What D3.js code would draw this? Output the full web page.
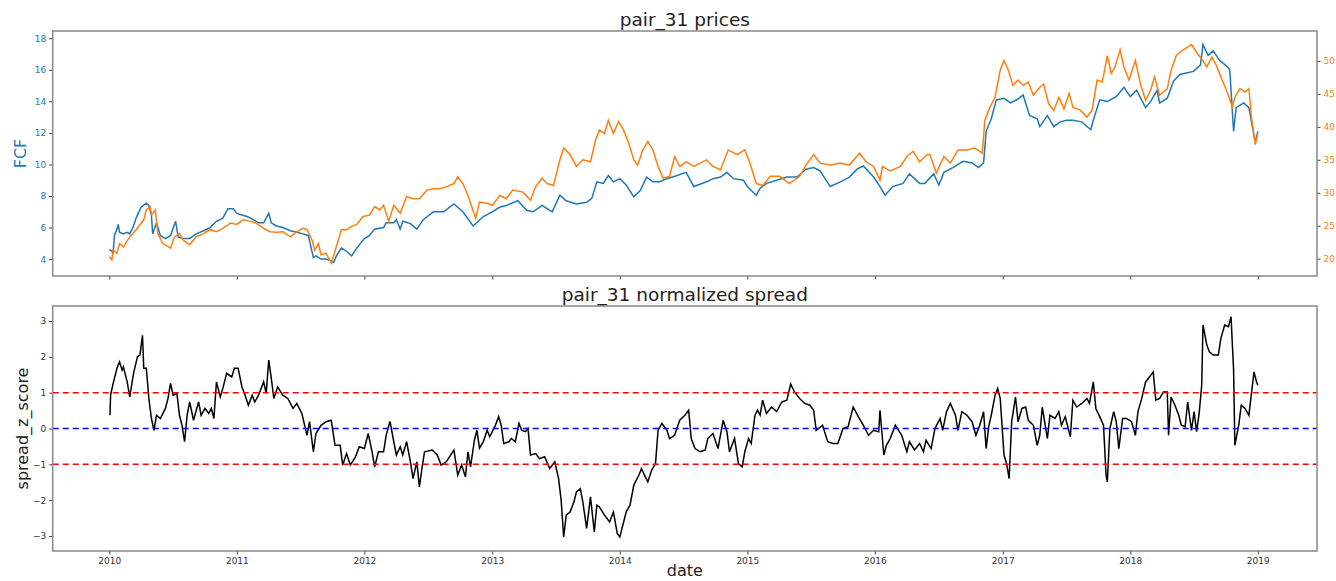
<!DOCTYPE html>
<html><head><meta charset="utf-8">
<script src="https://cdn.jsdelivr.net/npm/d3@7"></script>
<style>body{margin:0;background:#fff}svg{display:block}text{font-family:"DejaVu Sans",sans-serif}</style>
</head><body><svg id="chart" width="1336" height="581"></svg>
<script>
// ---------- data (decimal year, value) ----------
const titleTop = "pair_31 prices";
const titleBottom = "pair_31 normalized spread";
const yearTicks = [2010,2011,2012,2013,2014,2015,2016,2017,2018,2019];
const fcfTicks = [4,6,8,10,12,14,16,18];
const otherTicks = [20,25,30,35,40,45,50];
const zTicks = [-3,-2,-1,0,1,2,3];
const thresholds = [{v:1,c:"#ff0000"},{v:0,c:"#0000ff"},{v:-1,c:"#ff0000"}];

const fcfSeries = [
[2010.00,4.6],[2010.02,4.5],[2010.03,4.4],[2010.04,5.5],[2010.06,5.9],[2010.07,6.2],[2010.08,5.7],[2010.11,5.6],[2010.14,5.7],[2010.16,5.6],[2010.19,6.1],[2010.21,6.6],[2010.25,7.3],[2010.29,7.55],[2010.31,7.4],[2010.33,6.8],[2010.34,5.6],[2010.37,6.3],[2010.40,5.5],[2010.44,5.3],[2010.48,5.5],[2010.52,6.4],[2010.54,5.4],[2010.58,5.3],[2010.63,5.3],[2010.68,5.6],[2010.74,5.8],[2010.79,6.0],[2010.84,6.4],[2010.89,6.6],[2010.93,7.2],[2010.97,7.2],
[2011.00,6.9],[2011.04,6.8],[2011.08,6.7],[2011.13,6.5],[2011.17,6.3],[2011.21,6.3],[2011.25,6.9],[2011.27,6.3],[2011.31,6.1],[2011.36,6.0],[2011.42,5.8],[2011.47,5.7],[2011.52,5.6],[2011.56,5.5],[2011.60,4.1],[2011.62,4.2],[2011.66,4.0],[2011.70,4.0],[2011.76,3.8],[2011.78,4.2],[2011.82,4.7],[2011.86,4.5],[2011.90,4.2],[2011.94,4.7],
[2012.00,5.3],[2012.04,5.5],[2012.08,5.9],[2012.15,6.0],[2012.17,6.3],[2012.23,6.3],[2012.25,6.5],[2012.28,5.9],[2012.30,6.4],[2012.36,6.25],[2012.41,5.9],[2012.46,6.5],[2012.54,7.0],[2012.62,7.0],[2012.70,7.5],[2012.77,7.0],[2012.85,6.1],[2012.93,6.7],
[2013.00,7.0],[2013.06,7.3],[2013.11,7.4],[2013.20,7.7],[2013.27,7.1],[2013.32,7.0],[2013.39,7.4],[2013.47,7.0],[2013.53,8.05],[2013.58,7.7],[2013.66,7.5],[2013.74,7.6],[2013.78,7.85],[2013.82,8.9],[2013.87,8.8],[2013.91,9.3],[2013.95,8.9],
[2014.00,9.1],[2014.05,8.7],[2014.11,7.95],[2014.16,8.35],[2014.21,9.2],[2014.26,8.9],[2014.31,8.9],[2014.37,9.1],[2014.45,9.3],[2014.52,9.5],[2014.58,8.6],[2014.68,8.9],[2014.73,9.1],[2014.79,9.2],[2014.84,9.5],[2014.89,9.1],[2014.97,9.0],
[2015.00,8.6],[2015.07,8.05],[2015.10,8.5],[2015.15,8.8],[2015.23,9.0],[2015.31,9.2],[2015.39,9.2],[2015.46,9.7],[2015.52,9.8],[2015.57,9.6],[2015.65,8.6],[2015.73,8.9],[2015.80,9.2],[2015.86,9.7],[2015.91,9.9],[2015.99,9.2],
[2016.04,8.6],[2016.08,8.05],[2016.14,8.6],[2016.22,8.8],[2016.27,9.4],[2016.35,8.8],[2016.39,8.8],[2016.46,9.4],[2016.50,8.7],[2016.54,9.5],[2016.61,9.8],[2016.69,10.2],[2016.76,10.1],[2016.81,9.8],[2016.85,10.1],[2016.87,12.1],[2016.91,12.9],[2016.95,14.1],
[2017.01,14.2],[2017.06,13.9],[2017.11,14.1],[2017.16,14.4],[2017.21,13.1],[2017.27,12.9],[2017.29,12.4],[2017.35,13.1],[2017.40,12.4],[2017.45,12.7],[2017.50,12.8],[2017.55,12.8],[2017.62,12.7],[2017.69,12.2],[2017.71,12.8],[2017.76,14.1],[2017.82,14.0],[2017.89,14.3],[2017.95,14.9],
[2018.00,14.3],[2018.05,14.7],[2018.12,13.6],[2018.16,14.0],[2018.21,14.7],[2018.23,13.9],[2018.29,14.2],[2018.34,15.3],[2018.39,15.7],[2018.44,15.8],[2018.495,15.9],[2018.55,16.3],[2018.57,17.6],[2018.61,16.9],[2018.65,17.2],[2018.70,16.6],[2018.76,16.2],[2018.78,16.0],[2018.81,12.1],[2018.83,13.6],[2018.89,13.9],[2018.93,13.6],[2018.95,12.7],[2018.98,11.4],[2019.00,12.1]
];

const otherSeries = [
[2010.00,20.3],[2010.02,19.8],[2010.03,21.3],[2010.06,20.8],[2010.08,22.3],[2010.11,21.8],[2010.16,23.3],[2010.21,24.4],[2010.27,25.9],[2010.29,27.4],[2010.32,27.9],[2010.33,26.6],[2010.36,27.4],[2010.38,23.8],[2010.42,22.3],[2010.48,21.6],[2010.51,23.3],[2010.55,23.8],[2010.58,22.8],[2010.63,22.1],[2010.68,23.3],[2010.74,23.8],[2010.79,24.4],[2010.84,24.1],[2010.89,24.6],[2010.95,25.4],
[2011.00,25.2],[2011.05,25.9],[2011.10,25.7],[2011.15,25.4],[2011.21,24.6],[2011.26,24.1],[2011.31,24.0],[2011.36,24.1],[2011.42,23.3],[2011.47,24.1],[2011.52,24.6],[2011.55,24.4],[2011.59,22.8],[2011.61,21.3],[2011.64,22.3],[2011.66,20.6],[2011.70,20.8],[2011.74,19.3],[2011.78,21.8],[2011.82,24.4],[2011.86,24.4],[2011.90,24.9],[2011.94,25.2],[2011.99,26.4],
[2012.04,26.6],[2012.08,27.9],[2012.12,27.4],[2012.15,28.1],[2012.19,25.7],[2012.23,28.1],[2012.28,26.9],[2012.33,29.4],[2012.38,29.1],[2012.43,29.1],[2012.49,30.4],[2012.54,30.6],[2012.59,30.6],[2012.64,30.9],[2012.70,31.4],[2012.73,32.4],[2012.77,31.4],[2012.81,29.6],[2012.87,26.1],[2012.90,28.6],[2012.96,28.4],
[2013.00,28.1],[2013.06,29.6],[2013.11,29.1],[2013.16,30.4],[2013.24,30.1],[2013.30,28.9],[2013.34,30.9],[2013.39,32.2],[2013.43,31.4],[2013.48,31.1],[2013.53,35.0],[2013.56,36.8],[2013.61,35.8],[2013.66,34.0],[2013.71,35.0],[2013.77,34.7],[2013.81,38.0],[2013.84,39.5],[2013.88,39.0],[2013.91,41.0],[2013.95,39.0],[2013.99,40.8],
[2014.03,39.5],[2014.07,37.5],[2014.11,35.0],[2014.14,34.2],[2014.18,36.5],[2014.22,37.8],[2014.26,36.5],[2014.30,34.0],[2014.34,32.2],[2014.39,32.5],[2014.43,35.5],[2014.47,34.0],[2014.52,34.7],[2014.58,34.0],[2014.63,34.5],[2014.68,35.0],[2014.73,34.0],[2014.79,33.5],[2014.85,36.5],[2014.92,35.8],[2014.98,36.5],
[2015.02,34.5],[2015.07,31.4],[2015.12,31.1],[2015.18,32.5],[2015.255,32.5],[2015.33,31.4],[2015.41,32.5],[2015.46,34.2],[2015.52,35.8],[2015.57,34.5],[2015.65,34.2],[2015.73,34.5],[2015.80,34.2],[2015.88,36.0],[2015.93,34.7],[2015.99,34.0],
[2016.04,31.9],[2016.06,34.0],[2016.12,33.3],[2016.20,34.0],[2016.25,35.5],[2016.30,36.3],[2016.35,34.7],[2016.41,35.8],[2016.43,35.8],[2016.48,33.0],[2016.54,35.5],[2016.59,34.5],[2016.65,36.5],[2016.72,36.5],[2016.78,36.8],[2016.84,36.0],[2016.86,41.0],[2016.90,43.0],[2016.94,44.5],[2016.98,48.6],
[2017.01,50.1],[2017.04,48.8],[2017.08,46.3],[2017.12,47.1],[2017.16,46.3],[2017.20,46.8],[2017.24,44.8],[2017.28,45.8],[2017.32,46.5],[2017.36,43.5],[2017.40,42.5],[2017.44,44.5],[2017.48,42.7],[2017.52,45.1],[2017.55,43.0],[2017.61,42.5],[2017.66,41.5],[2017.70,42.5],[2017.74,47.1],[2017.78,46.8],[2017.82,50.8],[2017.85,48.1],[2017.88,49.1],[2017.92,51.7],[2017.95,49.1],[2017.99,47.1],
[2018.04,50.1],[2018.08,46.5],[2018.12,44.0],[2018.16,45.6],[2018.19,47.6],[2018.23,44.8],[2018.29,45.8],[2018.32,48.6],[2018.36,50.8],[2018.40,51.5],[2018.44,52.0],[2018.48,52.5],[2018.52,51.3],[2018.56,50.3],[2018.60,49.1],[2018.64,50.6],[2018.68,49.1],[2018.72,47.1],[2018.76,45.3],[2018.80,43.0],[2018.82,44.5],[2018.86,45.8],[2018.90,45.3],[2018.93,45.8],[2018.95,41.5],[2018.98,37.3],[2019.00,39.0]
];

const spreadSeries = [
[2010.005,0.37],[2010.01,0.93],[2010.03,1.26],[2010.06,1.68],[2010.08,1.86],[2010.10,1.63],[2010.11,1.72],[2010.14,1.3],[2010.16,0.88],[2010.19,1.54],[2010.22,2.0],[2010.24,2.05],[2010.26,2.6],[2010.27,1.68],[2010.29,1.68],[2010.31,0.84],[2010.33,0.28],[2010.35,-0.05],[2010.37,0.37],[2010.40,0.28],[2010.44,0.56],[2010.46,0.84],[2010.48,1.26],[2010.50,0.93],[2010.53,0.98],[2010.55,0.37],[2010.57,0.09],[2010.59,-0.37],[2010.61,0.37],[2010.63,0.74],[2010.66,0.23],[2010.70,0.74],[2010.72,0.37],[2010.75,0.56],[2010.78,0.42],[2010.80,0.56],[2010.82,0.28],[2010.84,1.3],[2010.87,0.88],[2010.89,1.12],[2010.92,1.54],[2010.96,1.44],[2010.98,1.68],
[2011.01,1.68],[2011.04,1.16],[2011.06,0.98],[2011.09,0.65],[2011.12,0.93],[2011.14,0.74],[2011.17,0.93],[2011.21,1.3],[2011.23,0.98],[2011.25,1.91],[2011.27,1.4],[2011.29,0.84],[2011.32,1.16],[2011.36,0.93],[2011.40,0.84],[2011.44,0.56],[2011.47,0.7],[2011.51,0.42],[2011.55,-0.19],[2011.57,0.19],[2011.60,-0.65],[2011.62,-0.14],[2011.66,0.09],[2011.70,0.19],[2011.74,0.23],[2011.77,-0.47],[2011.81,-0.47],[2011.83,-1.02],[2011.86,-0.7],[2011.89,-1.02],[2011.93,-0.79],[2011.96,-0.51],
[2012.00,-0.56],[2012.03,-0.14],[2012.06,-0.65],[2012.08,-1.07],[2012.11,-0.65],[2012.15,-0.65],[2012.17,-0.19],[2012.20,0.2],[2012.23,-0.37],[2012.25,-0.74],[2012.28,-0.51],[2012.30,-0.74],[2012.33,-0.37],[2012.36,-0.93],[2012.38,-1.4],[2012.41,-0.93],[2012.43,-1.63],[2012.45,-1.12],[2012.47,-0.65],[2012.53,-0.6],[2012.57,-0.74],[2012.60,-1.02],[2012.64,-0.93],[2012.70,-0.6],[2012.73,-1.3],[2012.76,-1.02],[2012.79,-1.35],[2012.81,-0.65],[2012.83,-1.07],[2012.86,-0.33],[2012.88,-0.05],[2012.90,-0.55],[2012.93,-0.37],[2012.96,-0.05],[2012.98,-0.23],
[2013.02,0.05],[2013.05,0.33],[2013.07,0.09],[2013.09,-0.42],[2013.13,-0.37],[2013.15,-0.28],[2013.18,-0.37],[2013.21,0.14],[2013.23,-0.05],[2013.26,-0.09],[2013.28,0.0],[2013.30,-0.74],[2013.34,-0.7],[2013.37,-0.84],[2013.41,-0.79],[2013.45,-1.12],[2013.49,-0.93],[2013.52,-1.4],[2013.54,-2.0],[2013.56,-3.03],[2013.58,-2.42],[2013.61,-2.33],[2013.64,-2.05],[2013.66,-1.77],[2013.69,-1.68],[2013.71,-2.05],[2013.74,-2.79],[2013.77,-1.91],[2013.80,-2.89],[2013.82,-2.14],[2013.84,-2.19],[2013.88,-2.42],[2013.92,-2.61],[2013.95,-2.33],[2013.98,-2.93],
[2014.00,-3.03],[2014.03,-2.61],[2014.05,-2.33],[2014.08,-2.14],[2014.11,-1.58],[2014.15,-1.3],[2014.17,-1.12],[2014.20,-1.35],[2014.22,-1.49],[2014.25,-1.16],[2014.28,-0.98],[2014.30,-0.05],[2014.33,0.14],[2014.37,-0.05],[2014.39,-0.28],[2014.43,-0.19],[2014.47,0.23],[2014.51,0.37],[2014.54,0.51],[2014.56,-0.28],[2014.59,-0.56],[2014.63,-0.65],[2014.67,-0.6],[2014.69,-0.28],[2014.73,-0.14],[2014.77,-0.56],[2014.81,0.23],[2014.84,-0.09],[2014.86,-0.65],[2014.90,-0.28],[2014.93,-0.98],[2014.96,-1.07],[2014.98,-0.65],
[2015.01,-0.28],[2015.03,-0.42],[2015.06,0.37],[2015.08,0.51],[2015.10,0.37],[2015.12,0.79],[2015.15,0.42],[2015.19,0.6],[2015.23,0.47],[2015.27,0.74],[2015.31,0.79],[2015.34,1.24],[2015.37,1.02],[2015.41,0.84],[2015.45,0.7],[2015.49,0.65],[2015.52,0.51],[2015.54,-0.05],[2015.59,0.09],[2015.63,-0.37],[2015.67,-0.42],[2015.71,-0.42],[2015.75,0.0],[2015.79,0.05],[2015.83,0.6],[2015.87,0.33],[2015.91,0.09],[2015.95,-0.19],[2015.99,-0.05],
[2016.03,-0.09],[2016.04,0.51],[2016.07,-0.74],[2016.09,-0.47],[2016.12,-0.28],[2016.16,0.09],[2016.21,-0.19],[2016.25,-0.65],[2016.27,-0.37],[2016.31,-0.6],[2016.35,-0.42],[2016.38,-0.65],[2016.40,-0.33],[2016.44,-0.56],[2016.47,0.0],[2016.51,0.28],[2016.53,-0.05],[2016.56,0.47],[2016.59,0.7],[2016.63,0.37],[2016.65,-0.05],[2016.68,0.47],[2016.72,0.37],[2016.76,0.19],[2016.79,-0.19],[2016.82,0.09],[2016.85,0.47],[2016.87,-0.56],[2016.89,0.05],[2016.91,0.37],[2016.94,0.93],[2016.96,1.12],[2016.98,0.84],
[2017.01,-0.74],[2017.03,-0.98],[2017.05,-1.4],[2017.07,0.19],[2017.10,0.88],[2017.12,0.19],[2017.15,0.56],[2017.18,0.6],[2017.20,0.23],[2017.24,0.09],[2017.27,-0.47],[2017.29,-0.19],[2017.31,0.6],[2017.35,-0.28],[2017.37,0.37],[2017.41,0.28],[2017.44,0.47],[2017.46,0.09],[2017.49,0.33],[2017.53,-0.23],[2017.55,0.79],[2017.58,0.6],[2017.62,0.7],[2017.66,0.84],[2017.68,0.7],[2017.71,1.3],[2017.73,0.56],[2017.76,0.33],[2017.79,0.09],[2017.81,-1.3],[2017.82,-1.49],[2017.84,0.0],[2017.87,0.47],[2017.89,0.19],[2017.91,-0.56],[2017.94,0.28],[2017.97,0.28],
[2018.01,0.19],[2018.04,-0.19],[2018.06,0.47],[2018.09,0.84],[2018.12,1.3],[2018.15,1.44],[2018.18,1.58],[2018.20,0.79],[2018.23,0.84],[2018.26,1.02],[2018.29,1.02],[2018.30,-0.19],[2018.32,0.88],[2018.35,0.65],[2018.38,0.37],[2018.40,0.09],[2018.43,0.05],[2018.45,0.74],[2018.48,-0.05],[2018.50,0.47],[2018.52,-0.09],[2018.54,0.42],[2018.56,1.21],[2018.57,2.89],[2018.60,2.33],[2018.62,2.14],[2018.65,2.05],[2018.69,2.05],[2018.71,2.51],[2018.74,2.89],[2018.77,2.84],[2018.79,3.12],[2018.81,1.63],[2018.82,-0.47],[2018.85,0.09],[2018.87,0.65],[2018.90,0.56],[2018.93,0.37],[2018.95,0.98],[2018.97,1.58],[2018.99,1.3],[2019.00,1.21]
];

// ---------- layout ----------
const W = 1336, H = 581;
const L = 52.7, R = 1317;
const top1 = 31, bot1 = 276, top2 = 306, bot2 = 551;
const frameColor = "#888";

function yearToDate(y){
  const yr = Math.floor(y);
  const s = Date.UTC(yr,0,1), e = Date.UTC(yr+1,0,1);
  return new Date(s + (y-yr)*(e-s));
}

const svg = d3.select("#chart");
const x = d3.scaleUtc().domain([yearToDate(2009.556), yearToDate(2019.464)]).range([L, R]);
const yL = d3.scaleLinear().domain([2.93, 18.46]).range([bot1, top1]);
const yR = d3.scaleLinear().domain([17.37, 54.55]).range([bot1, top1]);
const yZ = d3.scaleLinear().domain([-3.42, 3.42]).range([bot2, top2]);

function styleAxis(g, color){
  g.select(".domain").remove();
  g.selectAll(".tick line").attr("stroke","#444").attr("stroke-width",1);
  g.selectAll(".tick text").attr("fill", color).style("font-size","9px").style("font-family","DejaVu Sans");
}

// ----- top panel -----
svg.append("path").datum(fcfSeries)
  .attr("fill","none").attr("stroke","#1f77b4").attr("stroke-width",1.5)
  .attr("d", d3.line().x(d=>x(yearToDate(d[0]))).y(d=>yL(d[1])));
svg.append("path").datum(otherSeries)
  .attr("fill","none").attr("stroke","#ff7f0e").attr("stroke-width",1.5)
  .attr("d", d3.line().x(d=>x(yearToDate(d[0]))).y(d=>yR(d[1])));

svg.append("g").attr("transform",`translate(${L},0)`)
  .call(d3.axisLeft(yL).tickValues(fcfTicks).tickSize(3.5).tickPadding(3).tickFormat(d3.format("d")))
  .call(g=>styleAxis(g,"#1f77b4"));
svg.append("g").attr("transform",`translate(${R},0)`)
  .call(d3.axisRight(yR).tickValues(otherTicks).tickSize(3.5).tickPadding(3).tickFormat(d3.format("d")))
  .call(g=>styleAxis(g,"#ff7f0e"));
svg.append("g").attr("transform",`translate(0,${bot1})`)
  .call(d3.axisBottom(x).tickValues(yearTicks.map(yearToDate)).tickSize(3.5).tickFormat(""))
  .call(g=>styleAxis(g,"#333"));

svg.append("rect").attr("x",L).attr("y",top1).attr("width",R-L).attr("height",bot1-top1)
  .attr("fill","none").attr("stroke",frameColor).attr("stroke-width",1.5);

svg.append("text").attr("x",(L+R)/2).attr("y",26).attr("text-anchor","middle")
  .style("font-size","18.5px").attr("fill","#222").text(titleTop);
svg.append("text").attr("transform",`translate(26,${(top1+bot1)/2}) rotate(-90)`)
  .attr("text-anchor","middle").style("font-size","16px").attr("fill","#1f77b4").text("FCF");

// ----- bottom panel -----
svg.append("path").datum(spreadSeries)
  .attr("fill","none").attr("stroke","#000").attr("stroke-width",1.5)
  .attr("d", d3.line().x(d=>x(yearToDate(d[0]))).y(d=>yZ(d[1])));

svg.selectAll(".thr").data(thresholds).enter().append("line")
  .attr("x1",L).attr("x2",R).attr("y1",d=>yZ(d.v)).attr("y2",d=>yZ(d.v))
  .attr("stroke",d=>d.c).attr("stroke-width",1.5).attr("stroke-dasharray","6,4");

svg.append("g").attr("transform",`translate(${L},0)`)
  .call(d3.axisLeft(yZ).tickValues(zTicks).tickSize(3.5).tickPadding(3).tickFormat(d=>d<0?"\u2212"+Math.abs(d):String(d)))
  .call(g=>styleAxis(g,"#333"));
svg.append("g").attr("transform",`translate(0,${bot2})`)
  .call(d3.axisBottom(x).tickValues(yearTicks.map(yearToDate)).tickSize(3.5).tickPadding(3).tickFormat(d3.utcFormat("%Y")))
  .call(g=>styleAxis(g,"#333"));

svg.append("rect").attr("x",L).attr("y",top2).attr("width",R-L).attr("height",bot2-top2)
  .attr("fill","none").attr("stroke",frameColor).attr("stroke-width",1.5);

svg.append("text").attr("x",(L+R)/2).attr("y",301).attr("text-anchor","middle")
  .style("font-size","18.5px").attr("fill","#222").text(titleBottom);
svg.append("text").attr("transform",`translate(28,${(top2+bot2)/2}) rotate(-90)`)
  .attr("text-anchor","middle").style("font-size","16px").attr("fill","#222").text("spread_z_score");
svg.append("text").attr("x",(L+R)/2).attr("y",576).attr("text-anchor","middle")
  .style("font-size","16px").attr("fill","#222").text("date");
</script></body></html>
